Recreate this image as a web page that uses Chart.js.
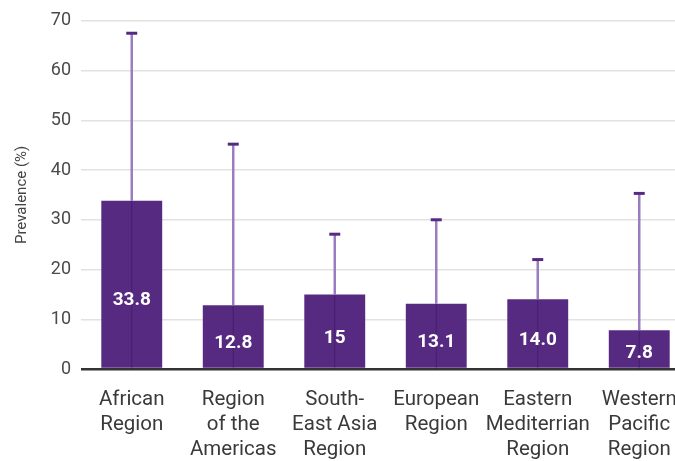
<!DOCTYPE html>
<html>
<head>
<meta charset="utf-8">
<script src="https://cdn.jsdelivr.net/npm/chart.js@4/dist/chart.umd.min.js"></script>
<style>
  html, body { margin: 0; padding: 0; background: #fff; overflow: hidden; }
  #wrap { width: 690px; height: 461px; position: relative; }
</style>
</head>
<body>
<div id="wrap"><canvas id="chart"></canvas></div>
<script>
// Régions OMS
const regions = [
  ['African', 'Region'],
  ['Region', 'of the', 'Americas'],
  ['South-', 'East Asia', 'Region'],
  ['European', 'Region'],
  ['Eastern', 'Mediterrian', 'Region'],
  ['Western', 'Pacific', 'Region']
];
// Prévalence (%) et borne haute de l'intervalle
const prevalence = [33.8, 12.8, 15, 13.1, 14.0, 7.8];
const valueLabels = ['33.8', '12.8', '15', '13.1', '14.0', '7.8'];
const upperBound = [67.5, 45.2, 27.1, 30.0, 22.0, 35.3];
const yTicks = [0, 10, 20, 30, 40, 50, 60, 70];

const purple = '#572a82';

// Barres d'erreur (borne haute seulement)
const errorBars = {
  id: 'errorBars',
  afterDatasetsDraw(chart) {
    const { ctx, scales: { x, y } } = chart;
    ctx.save();
    upperBound.forEach((hi, i) => {
      const cx = x.getPixelForValue(i);
      const yTop = y.getPixelForValue(hi);
      const yVal = y.getPixelForValue(prevalence[i]);
      const y0 = y.getPixelForValue(0);
      // trait dans la barre
      ctx.strokeStyle = 'rgba(40,10,70,0.35)';
      ctx.lineWidth = 1;
      ctx.beginPath();
      ctx.moveTo(cx, yVal);
      ctx.lineTo(cx, y0);
      ctx.stroke();
      // moustache
      ctx.strokeStyle = '#9a7dc0';
      ctx.lineWidth = 2.5;
      ctx.beginPath();
      ctx.moveTo(cx, yVal);
      ctx.lineTo(cx, yTop);
      ctx.stroke();
      // capuchon
      ctx.strokeStyle = purple;
      ctx.lineWidth = 3;
      ctx.beginPath();
      ctx.moveTo(cx - 5.5, yTop);
      ctx.lineTo(cx + 5.5, yTop);
      ctx.stroke();
    });
    ctx.restore();
  }
};

// Étiquettes de valeur dans les barres
const valueText = {
  id: 'valueText',
  afterDraw(chart) {
    const { ctx, scales: { x, y } } = chart;
    ctx.save();
    ctx.fillStyle = '#ffffff';
    ctx.font = 'bold 19px Roboto';
    ctx.textAlign = 'center';
    ctx.textBaseline = 'middle';
    prevalence.forEach((v, i) => {
      const cx = x.getPixelForValue(i);
      const y0 = y.getPixelForValue(0);
      const h = y0 - y.getPixelForValue(v);
      ctx.fillText(valueLabels[i], cx, y0 - Math.max(h * 0.41, 15));
    });
    ctx.restore();
  }
};

new Chart(document.getElementById('chart'), {
  type: 'bar',
  data: {
    labels: regions,
    datasets: [{
      data: prevalence,
      backgroundColor: purple,
      borderWidth: 0,
      barPercentage: 0.6,
      categoryPercentage: 1.0
    }]
  },
  options: {
    responsive: true,
    maintainAspectRatio: false,
    animation: false,
    layout: { padding: { top: 19, left: 0, right: 0, bottom: 0 } },
    plugins: {
      legend: { display: false },
      tooltip: { enabled: false }
    },
    scales: {
      x: {
        grid: { display: false },
        border: { display: false },
        ticks: {
          color: '#3a3a3a',
          font: { family: 'Roboto', size: 20.5, lineHeight: 1.22 },
          padding: 10,
          maxRotation: 0,
          autoSkip: false
        },
        afterFit(scale) { scale.height = 92; }
      },
      y: {
        min: 0,
        max: 70,
        afterBuildTicks(scale) { scale.ticks = yTicks.map(v => ({ value: v })); },
        grid: {
          drawTicks: false,
          color: ctx => ctx.tick.value === 0 ? '#333333' : '#e2e2e2',
          lineWidth: ctx => ctx.tick.value === 0 ? 2.5 : 1.5
        },
        border: { display: false },
        ticks: {
          color: '#4a4a4a',
          font: { family: 'Roboto', size: 18 },
          padding: 10
        },
        title: {
          display: true,
          text: 'Prevalence (%)',
          color: '#444',
          font: { family: 'Roboto', size: 15 },
          padding: { top: 13, bottom: 4 }
        },
        afterFit(scale) { scale.width = 81; }
      }
    }
  },
  plugins: [errorBars, valueText]
});
</script>
</body>
</html>
